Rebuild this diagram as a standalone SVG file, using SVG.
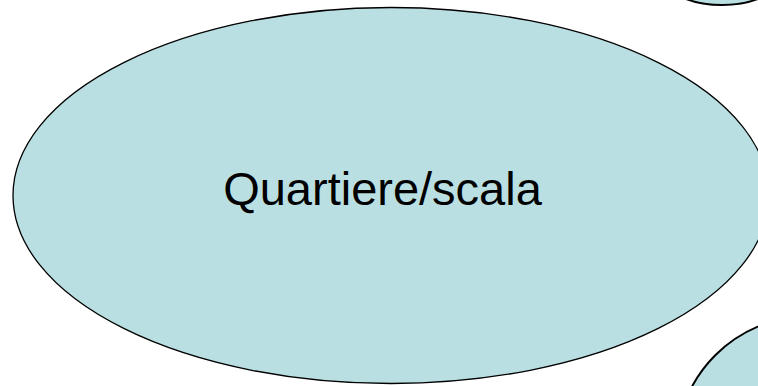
<svg xmlns="http://www.w3.org/2000/svg" width="758" height="386" viewBox="0 0 758 386">
<style>
.n{fill:#b9dfe3;stroke:#000;}
.t{font-family:"Liberation Sans",Arial,sans-serif;fill:#000;}
</style>
<rect width="758" height="386" fill="#fff"/>
<g id="node-top-right"><ellipse class="n" cx="722" cy="-30" rx="64" ry="35" stroke-width="2"/></g>
<g id="node-bottom-right"><ellipse class="n" cx="810" cy="450" rx="134" ry="134" stroke-width="2"/></g>
<g id="node-quartiere">
<ellipse class="n" cx="391" cy="195.5" rx="378" ry="188" stroke-width="1.3"/>
<text class="t" x="382.5" y="205" font-size="47" text-anchor="middle">Quartiere/scala</text>
</g>
<g id="connectors"></g>
</svg>
